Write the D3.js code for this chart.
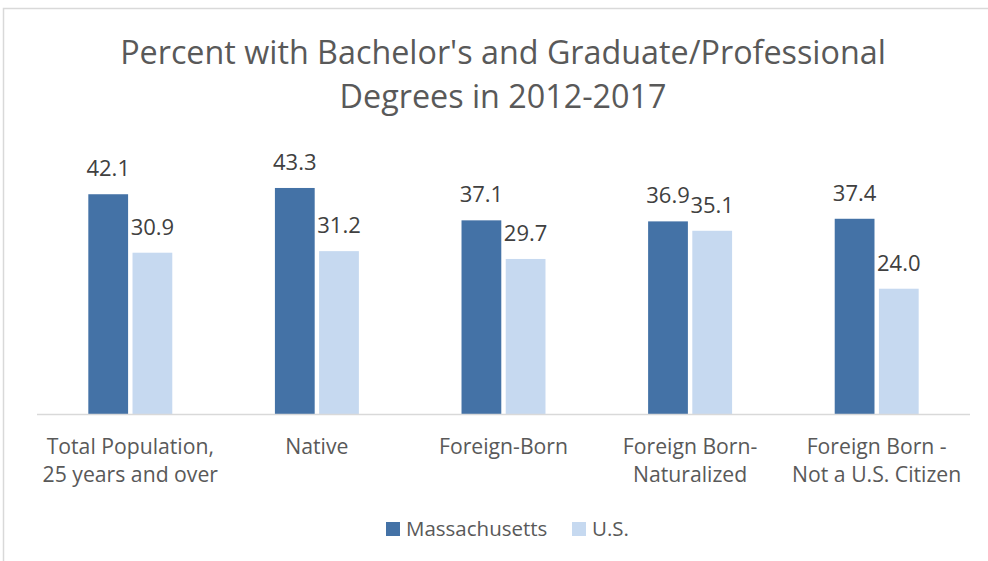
<!DOCTYPE html>
<html>
<head>
<meta charset="utf-8">
<script src="https://cdn.jsdelivr.net/npm/d3@7"></script>
<style>
  body { margin: 0; background: #fff; }
  text { font-family: "Open Sans", sans-serif; }
</style>
</head>
<body>
<div id="chart"></div>
<script>
// data
const categories = [
    ["Total Population,", "25 years and over"],
    ["Native"],
    ["Foreign-Born"],
    ["Foreign Born-", "Naturalized"],
    ["Foreign Born -", "Not a U.S. Citizen"]
];
const seriesNames = ["Massachusetts", "U.S."];
const massachusetts = [42.1, 43.3, 37.1, 36.9, 37.4];
const us = [30.9, 31.2, 29.7, 35.1, 24.0];
const titleLines = ["Percent with Bachelor's and Graduate/Professional", "Degrees in 2012-2017"];

const colors = ["#4472A6", "#C6D9F0"];

const W = 988, H = 561;
const svg = d3.select("#chart").append("svg")
    .attr("width", W)
    .attr("height", H);

// chart border (right and bottom fall outside the picture)
svg.append("rect")
    .attr("x", 3.5).attr("y", 8.5)
    .attr("width", 1100).attr("height", 700)
    .attr("fill", "none")
    .attr("stroke", "#d9d9d9")
    .attr("stroke-width", 1.5);

// title
svg.append("text")
    .attr("text-anchor", "middle")
    .attr("fill", "#595959")
    .attr("font-size", 32.3)
    .selectAll("tspan")
    .data(titleLines)
    .join("tspan")
    .attr("x", 503)
    .attr("y", (d, i) => 64 + i * 43.5)
    .text(d => d);

const rows = categories.map((c, i) => ({
    idx: i,
    lines: c,
    values: [massachusetts[i], us[i]]
}));

// scales
const x0 = d3.scaleBand()
    .domain(d3.range(categories.length))
    .range([37, 970])
    .paddingInner(0.55)
    .paddingOuter(0.275);

const x1 = d3.scaleBand()
    .domain(seriesNames)
    .range([0, x0.bandwidth()])
    .paddingInner(0.1);

const y = d3.scaleLinear()
    .domain([0, 50])
    .range([414, 153]);

// bars
const groups = svg.selectAll(".group")
    .data(rows)
    .join("g")
    .attr("class", "group")
    .attr("transform", d => `translate(${x0(d.idx)},0)`);

groups.selectAll("rect")
    .data(d => d.values.map((v, j) => ({ name: seriesNames[j], value: v, j })))
    .join("rect")
    .attr("x", d => x1(d.name))
    .attr("width", x1.bandwidth())
    .attr("y", d => y(d.value))
    .attr("height", d => y(0) - y(d.value))
    .attr("fill", d => colors[d.j]);

groups.selectAll(".bar-label")
    .data(d => d.values.map((v, j) => ({ name: seriesNames[j], value: v })))
    .join("text")
    .attr("class", "bar-label")
    .attr("x", d => x1(d.name) + x1.bandwidth() / 2)
    .attr("y", d => y(d.value) - 18)
    .attr("text-anchor", "middle")
    .attr("font-size", 22)
    .attr("fill", "#404040")
    .text(d => d.value.toFixed(1));

// axis line
svg.append("line")
    .attr("x1", 37).attr("x2", 970)
    .attr("y1", y(0) + 0.5).attr("y2", y(0) + 0.5)
    .attr("stroke", "#d9d9d9")
    .attr("stroke-width", 1.5);

// category labels
svg.selectAll(".cat-label")
    .data(rows)
    .join("text")
    .attr("class", "cat-label")
    .attr("text-anchor", "middle")
    .attr("font-size", 21.2)
    .attr("fill", "#595959")
    .selectAll("tspan")
    .data(d => d.lines.map(l => ({ l, cx: x0(d.idx) + x0.bandwidth() / 2 })))
    .join("tspan")
    .attr("x", d => d.cx)
    .attr("y", (d, i) => 453.5 + i * 28.3)
    .text(d => d.l);

// legend
const legendX = [386, 572];
const legend = svg.selectAll(".legend")
    .data(seriesNames)
    .join("g")
    .attr("class", "legend")
    .attr("transform", (d, i) => `translate(${legendX[i]},522)`);

legend.append("rect")
    .attr("width", 14).attr("height", 14)
    .attr("fill", (d, i) => colors[i]);

legend.append("text")
    .attr("x", 20).attr("y", 14)
    .attr("font-size", 20.5)
    .attr("fill", "#595959")
    .text(d => d);
</script>
</body>
</html>
